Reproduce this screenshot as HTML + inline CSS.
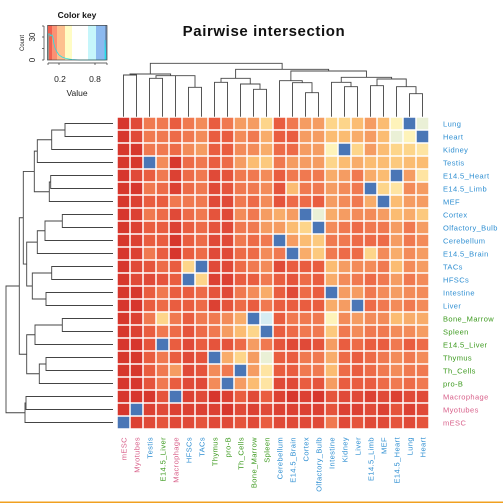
<!DOCTYPE html>
<html><head><meta charset="utf-8"><style>
html,body{margin:0;padding:0;background:#fff;width:503px;height:503px;overflow:hidden}
svg{display:block;font-family:"Liberation Sans",sans-serif}
</style></head><body>
<svg id="chart" width="503" height="503" viewBox="0 0 503 503">
<text x="264" y="36" text-anchor="middle" font-size="15" font-weight="bold" fill="#111" letter-spacing="0.6">Pairwise intersection</text>
<g>
<text x="77" y="18" text-anchor="middle" font-size="8.5" font-weight="bold" fill="#111">Color key</text>
<rect x="48" y="25" width="4" height="35" fill="#f0604f"/>
<rect x="52" y="25" width="5" height="35" fill="#fa9174"/>
<rect x="57" y="25" width="8" height="35" fill="#fdc08f"/>
<rect x="65" y="25" width="7" height="35" fill="#fffcc4"/>
<rect x="72" y="25" width="16" height="35" fill="#ffffff"/>
<rect x="88" y="25" width="8" height="35" fill="#c6f6fb"/>
<rect x="96" y="25" width="9" height="35" fill="#8cb9ef"/>
<rect x="105" y="25" width="2" height="35" fill="#6f8fb8"/>
<polyline fill="none" stroke="#22e0e8" stroke-width="0.8" points="48,60 48,34 50,34 50,36 52,35 53,38 54,44 55,48 57,52 59,55 62,57 66,58.5 72,59.5 80,60 100,60 105,60 105,40 106,60"/>
<rect x="47.5" y="25.5" width="59.5" height="34.5" fill="none" stroke="#444" stroke-width="0.7"/>
<line x1="44" y1="26" x2="44" y2="60" stroke="#333" stroke-width="0.7"/>
<line x1="42" y1="60" x2="44" y2="60" stroke="#333" stroke-width="0.7"/>
<line x1="42" y1="48.5" x2="44" y2="48.5" stroke="#333" stroke-width="0.7"/>
<line x1="42" y1="37" x2="44" y2="37" stroke="#333" stroke-width="0.7"/>
<line x1="42" y1="26" x2="44" y2="26" stroke="#333" stroke-width="0.7"/>
<text transform="translate(35,60) rotate(-90)" text-anchor="middle" font-size="8" fill="#222">0</text>
<text transform="translate(35,37) rotate(-90)" text-anchor="middle" font-size="8" fill="#222">30</text>
<text transform="translate(24,43) rotate(-90)" text-anchor="middle" font-size="6" fill="#222">Count</text>
<line x1="48" y1="63" x2="107" y2="63" stroke="#333" stroke-width="0.7"/>
<line x1="59" y1="63" x2="59" y2="65" stroke="#333" stroke-width="0.7"/>
<line x1="95" y1="63" x2="95" y2="65" stroke="#333" stroke-width="0.7"/>
<line x1="48" y1="63" x2="48" y2="65" stroke="#333" stroke-width="0.7"/>
<line x1="107" y1="63" x2="107" y2="65" stroke="#333" stroke-width="0.7"/>
<text x="60" y="82" text-anchor="middle" font-size="8.5" fill="#222">0.2</text>
<text x="95" y="82" text-anchor="middle" font-size="8.5" fill="#222">0.8</text>
<text x="77" y="96" text-anchor="middle" font-size="8.5" fill="#222">Value</text>
</g>
<g id="cells"></g>
<g id="dendro"></g>
<g id="labels"></g>
<rect x="0" y="501.5" width="503" height="1.5" fill="#f0a020"/>
</svg>
<script>
const colNames = ["mESC","Myotubes","Testis","E14.5_Liver","Macrophage","HFSCs","TACs","Thymus","pro-B","Th_Cells","Bone_Marrow","Spleen","Cerebellum","E14.5_Brain","Cortex","Olfactory_Bulb","Intestine","Kidney","Liver","E14.5_Limb","MEF","E14.5_Heart","Lung","Heart"];
const rowNames = ["Lung","Heart","Kidney","Testis","E14.5_Heart","E14.5_Limb","MEF","Cortex","Olfactory_Bulb","Cerebellum","E14.5_Brain","TACs","HFSCs","Intestine","Liver","Bone_Marrow","Spleen","E14.5_Liver","Thymus","Th_Cells","pro-B","Macrophage","Myotubes","mESC"];
const pinkNames = ["mESC","Myotubes","Macrophage"];
const greenNames = ["E14.5_Liver","Thymus","pro-B","Th_Cells","Bone_Marrow","Spleen"];
const cellValues = [
[0.0,0.1,0.3,0.3,0.2,0.3,0.35,0.2,0.3,0.4,0.4,0.6, 0.2,0.3,0.4,0.4,0.6,0.6,0.5,0.4,0.5,0.7,0.9,0.75],
[0.0,0.1,0.3,0.3,0.25,0.3,0.35,0.2,0.2,0.35,0.3,0.45, 0.2,0.2,0.4,0.4,0.5,0.5,0.45,0.4,0.5,0.75,0.7,0.9],
[0.0,0.0,0.3,0.3,0.25,0.35,0.4,0.2,0.2,0.35,0.35,0.45, 0.25,0.25,0.4,0.4,0.7,0.9,0.6,0.4,0.5,0.6,0.6,0.65],
[0.0,0.0,0.9,0.35,0.0,0.25,0.3,0.2,0.25,0.4,0.5,0.55, 0.3,0.4,0.4,0.4,0.6,0.5,0.45,0.5,0.5,0.55,0.5,0.5],
[0.0,0.1,0.2,0.3,0.05,0.25,0.3,0.1,0.15,0.3,0.3,0.35, 0.2,0.3,0.3,0.3,0.45,0.4,0.3,0.45,0.5,0.9,0.4,0.65],
[0.0,0.0,0.3,0.25,0.05,0.25,0.3,0.1,0.15,0.3,0.3,0.35, 0.15,0.5,0.3,0.3,0.4,0.35,0.3,0.9,0.6,0.65,0.35,0.4],
[0.0,0.05,0.2,0.2,0.3,0.3,0.3,0.1,0.1,0.3,0.25,0.35, 0.15,0.25,0.25,0.2,0.4,0.35,0.3,0.45,0.9,0.5,0.4,0.4],
[0.0,0.05,0.3,0.25,0.1,0.25,0.3,0.15,0.1,0.35,0.3,0.4, 0.45,0.4,0.9,0.75,0.45,0.4,0.35,0.35,0.4,0.5,0.45,0.55],
[0.0,0.05,0.2,0.2,0.05,0.2,0.25,0.15,0.1,0.3,0.3,0.4, 0.4,0.5,0.6,0.9,0.35,0.3,0.25,0.3,0.3,0.4,0.3,0.4],
[0.0,0.05,0.2,0.2,0.0,0.2,0.25,0.1,0.1,0.3,0.25,0.3, 0.9,0.4,0.5,0.55,0.3,0.3,0.25,0.25,0.25,0.4,0.3,0.35],
[0.0,0.05,0.3,0.2,0.0,0.2,0.25,0.1,0.1,0.25,0.25,0.35, 0.3,0.9,0.45,0.55,0.3,0.25,0.25,0.6,0.35,0.45,0.35,0.4],
[0.0,0.1,0.15,0.25,0.2,0.6,0.9,0.1,0.1,0.25,0.3,0.35, 0.1,0.2,0.2,0.2,0.5,0.4,0.35,0.35,0.3,0.5,0.35,0.4],
[0.0,0.1,0.1,0.15,0.2,0.9,0.6,0.05,0.05,0.2,0.2,0.3, 0.2,0.15,0.25,0.2,0.45,0.35,0.3,0.25,0.3,0.4,0.3,0.35],
[0.0,0.0,0.2,0.3,0.2,0.2,0.25,0.15,0.1,0.3,0.35,0.45, 0.2,0.1,0.25,0.2,0.9,0.4,0.4,0.3,0.35,0.4,0.35,0.35],
[0.0,0.0,0.2,0.25,0.2,0.2,0.25,0.05,0.15,0.25,0.2,0.3, 0.2,0.2,0.2,0.2,0.45,0.4,0.9,0.25,0.3,0.35,0.3,0.35],
[0.0,0.05,0.3,0.6,0.3,0.2,0.3,0.3,0.35,0.45,0.9,0.8, 0.2,0.3,0.3,0.3,0.7,0.35,0.4,0.35,0.35,0.5,0.45,0.45],
[0.0,0.05,0.2,0.3,0.25,0.15,0.25,0.3,0.4,0.5,0.6,0.9, 0.2,0.25,0.3,0.3,0.55,0.3,0.35,0.3,0.3,0.35,0.35,0.4],
[0.0,0.0,0.15,0.9,0.2,0.1,0.2,0.15,0.15,0.25,0.4,0.3, 0.15,0.1,0.1,0.15,0.4,0.2,0.25,0.2,0.2,0.3,0.2,0.25],
[0.0,0.0,0.2,0.3,0.2,0.1,0.15,0.9,0.45,0.6,0.4,0.75, 0.2,0.2,0.3,0.3,0.45,0.25,0.2,0.25,0.3,0.35,0.3,0.35],
[0.0,0.0,0.2,0.3,0.4,0.1,0.15,0.35,0.3,0.9,0.4,0.65, 0.2,0.2,0.3,0.3,0.5,0.25,0.2,0.25,0.3,0.35,0.3,0.3],
[0.0,0.0,0.15,0.3,0.2,0.1,0.1,0.35,0.9,0.4,0.5,0.65, 0.1,0.1,0.2,0.15,0.4,0.2,0.2,0.2,0.25,0.3,0.25,0.3],
[0.0,0.0,0.0,0.15,0.9,0.05,0.1,0.0,0.05,0.2,0.1,0.2, 0.05,0.0,0.05,0.0,0.15,0.1,0.1,0.05,0.1,0.05,0.1,0.1],
[0.0,0.9,0.05,0.1,0.05,0.05,0.05,0.05,0.0,0.1,0.05,0.1, 0.05,0.05,0.05,0.05,0.15,0.05,0.05,0.1,0.05,0.15,0.05,0.1],
[0.9,0.05,0.1,0.15,0.1,0.1,0.15,0.1,0.1,0.15,0.1,0.2, 0.1,0.1,0.1,0.1,0.3,0.1,0.15,0.1,0.1,0.15,0.1,0.15]
];
const NS = "http://www.w3.org/2000/svg";
const X0 = 117, Y0 = 117, CELL = 13;
const palette = [[215,55,45],[224,74,56],[233,93,64],[240,121,80],[245,156,98],[251,188,114],[253,213,138],[254,243,186],[214,236,242],[74,118,182]];
function xPos(i){ return X0 + i*CELL; }
function yPos(i){ return Y0 + i*CELL; }
function colorOf(v){
  let t = Math.max(0, Math.min(9, v*10));
  const i = Math.floor(t), f = t - i;
  const a = palette[i], b = palette[Math.min(9,i+1)];
  return "rgb(" + a.map((c,k)=>Math.round(c+(b[k]-c)*f)).join(",") + ")";
}
const cellsG = document.getElementById("cells");
cellValues.forEach((row, r) => {
  row.forEach((v, c) => {
    const rect = document.createElementNS(NS, "rect");
    rect.setAttribute("x", xPos(c) + 0.75);
    rect.setAttribute("y", yPos(r) + 0.75);
    rect.setAttribute("width", CELL - 1.5);
    rect.setAttribute("height", CELL - 1.5);
    rect.setAttribute("fill", colorOf(v));
    
    
    cellsG.appendChild(rect);
  });
});
function labelColor(n){ return pinkNames.includes(n) ? "#d8608a" : (greenNames.includes(n) ? "#3c9a1e" : "#2f8fd2"); }
const labelsG = document.getElementById("labels");
colNames.forEach((n, i) => {
  const t = document.createElementNS(NS, "text");
  const cx = xPos(i) + CELL/2 + 3;
  t.setAttribute("transform", "translate(" + cx + ",437) rotate(-90)");
  t.setAttribute("text-anchor", "end");
  t.setAttribute("font-size", "7.5");
  t.setAttribute("letter-spacing", "0.4");
  t.setAttribute("fill", labelColor(n));
  t.textContent = n;
  
  
  labelsG.appendChild(t);
});
rowNames.forEach((n, i) => {
  const t = document.createElementNS(NS, "text");
  t.setAttribute("x", 443);
  t.setAttribute("y", yPos(i) + CELL/2 + 3);
  t.setAttribute("font-size", "7.5");
  t.setAttribute("letter-spacing", "0.4");
  t.setAttribute("fill", labelColor(n));
  t.textContent = n;
  
  
  labelsG.appendChild(t);
});
// dendrogram structures: [left, right, merge position px]
const topTree = [[[0,1,75],[[2,3,78.3],[4,[5,6,87.3],75.7],75.7],74],
  [[[7,8,82.3],[9,[10,11,89.3],84],78.3],
   [[12,[13,[14,15,92.7],82.7],80.7],[[16,[17,18,86.7],82.3],[[19,20,85.7],[21,[22,23,93.7],86.7],79],77.3],71],69.3],63.3];
const leftTree = [[[[[[[0,1,65],2,51.7],3,37.3],[[4,5,50.7],6,49.3],34.3],
  [[[[7,8,62.3],9,45],10,37.3],[[11,12,51.7],[13,14,46],32.3],26.7],23.3],
  [[[15,16,62.3],17,35],[[18,19,46],20,39.3],26.7],19.3],[[21,22,26],23,25],6];
const dG = document.getElementById("dendro");
let dPath = "";
function drawTop(node){
  if (typeof node === "number") return {x: xPos(node)+CELL/2, y: 116.7};
  const a = drawTop(node[0]), b = drawTop(node[1]), h = node[2];
  dPath += "M"+a.x+","+a.y+"V"+h+"H"+b.x+"V"+b.y;
  return {x:(a.x+b.x)/2, y:h};
}
function drawLeft(node){
  if (typeof node === "number") return {x: 113, y: yPos(node)+CELL/2};
  const a = drawLeft(node[0]), b = drawLeft(node[1]), h = node[2];
  dPath += "M"+a.x+","+a.y+"H"+h+"V"+b.y+"H"+b.x;
  return {x:h, y:(a.y+b.y)/2};
}
drawTop(topTree);
drawLeft(leftTree);
const p = document.createElementNS(NS, "path");
p.setAttribute("d", dPath);
p.setAttribute("fill", "none");
p.setAttribute("stroke", "#444");
p.setAttribute("stroke-width", "0.9");


dG.appendChild(p);
</script>
</body></html>
